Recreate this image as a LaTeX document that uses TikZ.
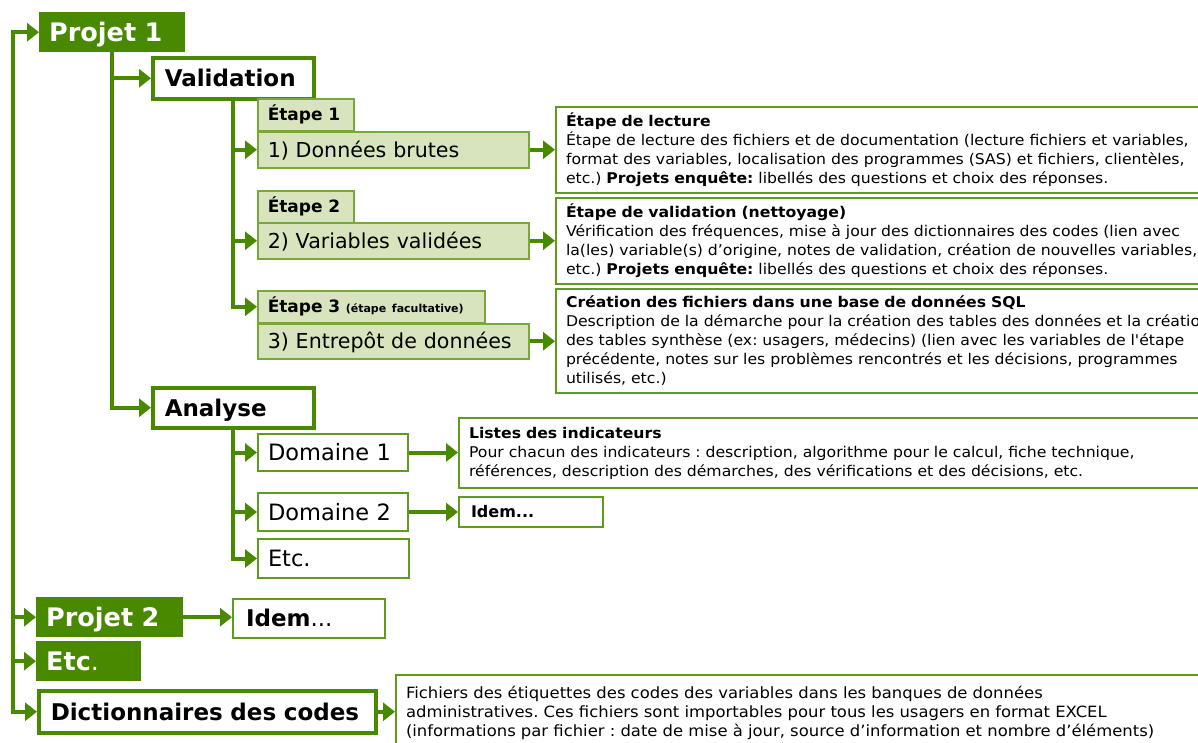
\documentclass[tikz,border=0pt]{standalone}
\usepackage{fontspec}
\setmainfont{DejaVu Sans}
\newfontfamily\descfont[FakeStretch=1.06]{DejaVu Sans}
\usetikzlibrary{arrows.meta}
\frenchspacing
\definecolor{dkg}{RGB}{73,137,0}
\definecolor{tabfill}{RGB}{215,228,189}
\definecolor{tabline}{RGB}{118,168,58}
\definecolor{descline}{RGB}{94,155,30}
\tikzset{
  x=1pt, y=-1pt,
  every node/.style={anchor=north west, inner ysep=0pt, inner xsep=10pt, align=left},
  conn/.style={draw=dkg, line width=4pt, -{Triangle[length=12pt,width=18pt]}},
  proj/.style={fill=dkg, text=white, font=\fontsize{25.5}{30}\selectfont\bfseries, text height=18.4pt, text depth=0pt},
  head/.style={draw=dkg, line width=3.5pt, fill=white, font=\fontsize{23}{28}\selectfont\bfseries, text height=16.8pt, text depth=0pt, inner xsep=12pt},
  tabbox/.style={draw=tabline, line width=1.5pt, fill=tabfill, font=\fontsize{17}{20}\selectfont\bfseries, text height=12.4pt, text depth=0pt},
  stepbox/.style={draw=tabline, line width=1.5pt, fill=tabfill, font=\fontsize{20.6}{24}\selectfont, text height=15pt, text depth=0pt},
  dombox/.style={draw=descline, line width=2pt, fill=white, font=\fontsize{22.5}{27}\selectfont, text height=16.4pt, text depth=0pt},
  idembox/.style={draw=descline, line width=2pt, fill=white, text depth=0pt},
  descbox/.style={draw=descline, line width=2pt, fill=white, font=\descfont\fontsize{14.8}{19}\selectfont},
}
\begin{document}
\begin{tikzpicture}
\clip (0,0) rectangle (1198,742);
\useasboundingbox (0,0) rectangle (1198,742);

% level 1
\node[proj, text width=126pt, minimum height=40pt] (p1) at (39,12) {Projet 1};
\node[proj, text width=127pt, minimum height=40pt] (p2) at (36,597) {Projet 2};
\node[proj, text width=85pt, minimum height=40pt] (pe) at (36,641) {Etc\mdseries.};
\node[head, text width=313pt, minimum height=42pt] (dc) at (37,689) {Dictionnaires des codes};

% level 2
\node[head, text width=137pt, minimum height=41pt] (val) at (151,56) {Validation};
\node[head, text width=137pt, minimum height=40pt] (an) at (151,386) {Analyse};

% etapes
\node[tabbox, text width=76pt, minimum height=32pt] (t1) at (257,98) {Étape 1};
\node[stepbox, text width=251pt, minimum height=36pt] (d1) at (257,131) {1) Données brutes};
\node[tabbox, text width=76pt, minimum height=32pt] (t2) at (257,190) {Étape 2};
\node[stepbox, text width=251pt, minimum height=36pt] (d2) at (257,222) {2) Variables validées};
\node[tabbox, text width=207pt, minimum height=32pt] (t3) at (257,290) {Étape 3 {\fontsize{11}{13}\selectfont (étape facultative)}};
\node[stepbox, text width=251pt, minimum height=35pt] (d3) at (257,323) {3) Entrepôt de données};

% descriptions
\node[descbox, text width=800pt, minimum height=86pt] (r1) at (555,106) {{\bfseries Étape de lecture}\\
Étape de lecture des fichiers et de documentation (lecture fichiers et variables,\\
format des variables, localisation des programmes (SAS) et fichiers, clientèles,\\
etc.) {\bfseries Projets enquête:} libellés des questions et choix des réponses.};
\node[descbox, text width=800pt, minimum height=86pt] (r2) at (555,197) {{\bfseries Étape de validation (nettoyage)}\\
Vérification des fréquences, mise à jour des dictionnaires des codes (lien avec\\
la(les) variable(s) d’origine, notes de validation, création de nouvelles variables,\\
etc.) {\bfseries Projets enquête:} libellés des questions et choix des réponses.};
\node[descbox, text width=800pt, minimum height=104pt] (r3) at (555,288) {{\bfseries Création des fichiers dans une base de données SQL}\\
Description de la démarche pour la création des tables des données et la création\\
des tables synthèse (ex: usagers, médecins) (lien avec les variables de l'étape\\
précédente, notes sur les problèmes rencontrés et les décisions, programmes\\
utilisés, etc.)};

% analyse
\node[dombox, text width=130pt, minimum height=37pt] (m1) at (257,433) {Domaine 1};
\node[dombox, text width=130pt, minimum height=38pt] (m2) at (257,492) {Domaine 2};
\node[dombox, text width=131pt, minimum height=39pt] (m3) at (257,538) {Etc.};
\node[descbox, text width=800pt, minimum height=70pt] (li) at (458,417) {{\bfseries Listes des indicateurs}\\
Pour chacun des indicateurs : description, algorithme pour le calcul, fiche technique,\\
références, description des démarches, des vérifications et des décisions, etc.};
\node[idembox, text width=120pt, minimum height=30pt, inner xsep=12pt, font=\fontsize{16}{19}\selectfont\bfseries, text height=11.7pt] (id1) at (458,496) {Idem...};
\node[idembox, text width=126pt, minimum height=39pt, inner xsep=13pt, font=\fontsize{23}{27}\selectfont, text height=16.8pt] (id2) at (232,598) {{\bfseries Idem}...};
\node[descbox, text width=830pt, minimum height=76pt, font=\descfont\fontsize{15.5}{19}\selectfont] (dd) at (395,674) {Fichiers des étiquettes des codes des variables dans les banques de données\\
administratives. Ces fichiers sont importables pour tous les usagers en format EXCEL\\
(informations par fichier : date de mise à jour, source d’information et nombre d’éléments)};

% connectors
\coordinate (root) at (13,711);
\draw[conn] (root) |- (p1.west);
\draw[conn] (root) |- (p2.west);
\draw[conn] (root) |- (pe.west);
\draw[conn] (root) |- (dc.west);
\draw[conn] (p1.south) |- (val.west);
\draw[conn] (p1.south) |- (an.west);
\draw[conn] (val.south) |- (d1.west);
\draw[conn] (val.south) |- (d2.west);
\draw[conn] (val.south) |- (t3.west);
\draw[conn] (d1.east) -- (d1.east -| r1.west);
\draw[conn] (d2.east) -- (d2.east -| r2.west);
\draw[conn] (d3.east) -- (d3.east -| r3.west);
\draw[conn] (an.south) |- (m1.west);
\draw[conn] (an.south) |- (m2.west);
\draw[conn] (an.south) |- (m3.west);
\draw[conn] (m1.east) -- (m1.east -| li.west);
\draw[conn] (m2.east) -- (m2.east -| id1.west);
\draw[conn] (p2.east) -- (p2.east -| id2.west);
\draw[conn] (dc.east) -- (dc.east -| dd.west);
\end{tikzpicture}
\end{document}
